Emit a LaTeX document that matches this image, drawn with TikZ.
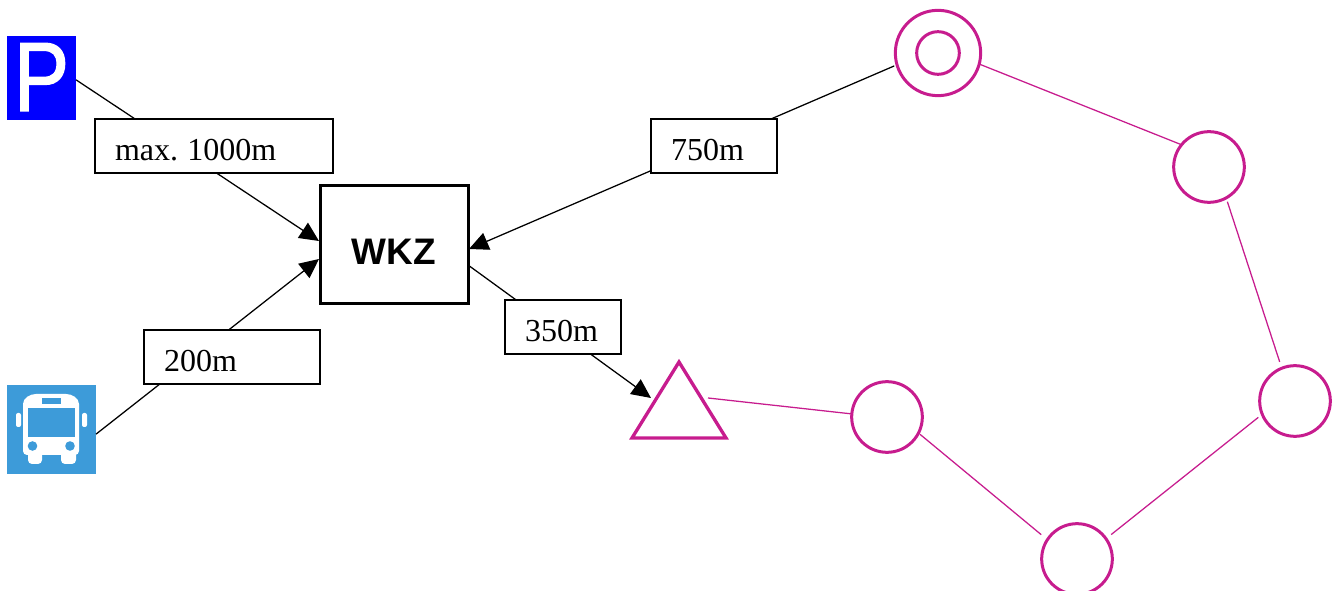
\documentclass[tikz,border=0pt]{standalone}
\usepackage{fontspec}
\setmainfont{Liberation Serif}
\newfontfamily\arialfont{Liberation Sans}
\newfontfamily\parkfont[FakeStretch=0.84,FakeBold=1.2]{Liberation Sans}
\usetikzlibrary{arrows.meta}
\definecolor{pinkline}{HTML}{C71C8E}
\definecolor{parkblue}{HTML}{0000FF}
\definecolor{busblue}{HTML}{3D9BD9}
\frenchspacing
\tikzset{
  x=0.75pt,y=-0.75pt,
  conn/.style={draw=black,line width=0.95pt,-{Triangle[length=14.5pt,width=13.5pt]}},
  route/.style={draw=pinkline,line width=0.95pt},
  stopc/.style={circle,draw=pinkline,line width=2.25pt,inner sep=0pt,outer sep=0pt,minimum size=#1},
  lbl/.style={rectangle,draw=black,fill=white,line width=0.85pt,inner xsep=15pt,inner ysep=0pt,outer sep=0pt,
    align=left,text height=31pt,text depth=9.5pt,font=\fontsize{24}{28}\selectfont,text width=#1},
  main/.style={rectangle,draw=black,line width=2.25pt,inner sep=0pt,outer sep=0pt,minimum width=111pt,minimum height=88.5pt,
    text height=30pt,text depth=0pt,font=\arialfont\bfseries\fontsize{27.7}{32}\selectfont},
  icon/.style={rectangle,inner sep=0pt,outer sep=0pt}
}
\begin{document}
\begin{tikzpicture}
\useasboundingbox (0,0) rectangle (1340,591);
% icons and main box
\node[icon,fill=parkblue,minimum width=51.75pt,minimum height=63pt,text=white,text height=49.5pt,text depth=0pt,font=\parkfont\fontsize{74}{74}\selectfont] (P) at (41.5,78) {P};
\node[icon,fill=busblue,minimum width=66.75pt,minimum height=66.75pt] (bus) at (51.5,429.5) {};
\fill[white,rounded corners=3pt] (23,455) -- (23,408) .. controls (23,398) and (30,394) .. (40,394) -- (62,394) .. controls (72,394) and (79,398) .. (79,408) -- (79,455) -- cycle;
\fill[white,rounded corners=3pt] (28,450) rectangle (42,464);
\fill[white,rounded corners=3pt] (61,450) rectangle (76,464);
\fill[white,rounded corners=1.5pt] (16,413) rectangle (21,427);
\fill[white,rounded corners=1.5pt] (82,413) rectangle (87,427);
\fill[busblue] (28,408) rectangle (75,437);
\fill[busblue] (42,398) rectangle (61,404);
\fill[busblue] (32.5,446) circle (3.6pt);
\fill[busblue] (70,446) circle (3.6pt);
\node[main] (wkz) at (394,245) {WKZ};
% route stops
\node[stopc=64pt] (c1) at (938,53) {};
\node[stopc=32pt] (c1i) at (938,53) {};
\node[stopc=53pt] (c2) at (1209,167) {};
\node[stopc=53pt] (c3) at (1295,401) {};
\node[stopc=53pt] (c4) at (1077,559) {};
\node[stopc=53pt] (c5) at (887,417) {};
\coordinate (triA) at (679,362);
\coordinate (triB) at (632,438);
\coordinate (triC) at (726,438);
\coordinate (triIn) at (651,398);
\coordinate (triOut) at (708,398);
\coordinate (wkzA) at (319,241);
\coordinate (wkzB) at (319,259);
\coordinate (wkzC) at (469,249);
\coordinate (wkzD) at (468,265);
\draw[draw=pinkline,line width=2.5pt,line join=miter] (triA) -- (triB) -- (triC) -- cycle;
% connectors
\draw[conn] (P.-3.3) -- (wkzA);
\draw[conn] (bus.-6) -- (wkzB);
\draw[conn,shorten <=2.25pt] (c1.196) -- (wkzC);
\draw[conn] (wkzD) -- (triIn);
\draw[route] (c1.-15) -- (c2.141);
\draw[route,shorten <=3pt,shorten >=5pt] (c2.-61) -- (c3.112);
\draw[route,shorten <=3.75pt,shorten >=5pt] (c3.202) -- (c4.35);
\draw[route,shorten <=6pt,shorten >=1.5pt] (c4.147) -- (c5.-27);
\draw[route] (c5.175) -- (triOut);
% labels
\node[lbl=148.5pt] (l1) at (214,146) {max. \kern-1pt 1000m};
\node[lbl=102pt] (l2) at (232,357) {200m};
\node[lbl=64.5pt] (l3) at (714,146) {750m};
\node[lbl=57pt] (l4) at (563,327) {350m};
\end{tikzpicture}
\end{document}
